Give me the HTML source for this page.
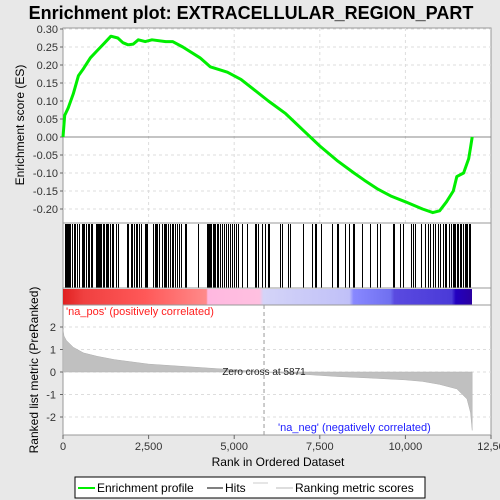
<!DOCTYPE html>
<html><head><meta charset="utf-8"><style>
html,body{margin:0;padding:0;background:#e8e8e8;width:500px;height:500px;overflow:hidden;font-family:"Liberation Sans",sans-serif}
</style></head><body>
<svg id="c" width="500" height="500" xmlns="http://www.w3.org/2000/svg" font-family="Liberation Sans, sans-serif">
<rect x="0" y="0" width="500" height="500" fill="#e8e8e8"/>
<text x="251" y="19" font-size="18" font-weight="bold" text-anchor="middle" fill="#000">Enrichment plot: EXTRACELLULAR_REGION_PART</text>
<g id="es-panel"></g>
<g id="hits-panel"></g>
<g id="metric-panel"></g>
<text transform="translate(24,125) rotate(-90)" font-size="12" text-anchor="middle">Enrichment score (ES)</text>
<text transform="translate(38,370) rotate(-90)" font-size="12" text-anchor="middle">Ranked list metric (PreRanked)</text>
<text x="278" y="466" font-size="12" text-anchor="middle">Rank in Ordered Dataset</text>
<g>
<rect x="75" y="477" width="350" height="21" fill="#fff" stroke="#000"/>
<line x1="78" y1="488" x2="95" y2="488" stroke="#00ee00" stroke-width="2"/>
<text x="97" y="492" font-size="12">Enrichment profile</text>
<line x1="207" y1="488" x2="223" y2="488" stroke="#000" stroke-width="1"/>
<text x="225" y="492" font-size="12">Hits</text>
<line x1="253" y1="483" x2="268" y2="483" stroke="#ccc"/>
<line x1="276" y1="488" x2="293" y2="488" stroke="#bbb"/>
<text x="295" y="492" font-size="12">Ranking metric scores</text>
</g>
</svg>
<script>
const esRanks=[0,50,150,300,450,600,800,1000,1200,1400,1600,1750,1900,2050,2200,2400,2600,3000,3200,3500,4000,4300,4800,5200,5600,6000,6500,7000,7500,8000,8500,8800,9200,9600,10000,10500,10800,11000,11200,11400,11500,11700,11850,11900,11950];
const esValues=[0,0.06,0.08,0.12,0.17,0.19,0.22,0.24,0.26,0.28,0.275,0.262,0.256,0.258,0.27,0.265,0.27,0.265,0.265,0.25,0.22,0.195,0.18,0.16,0.13,0.1,0.065,0.02,-0.025,-0.065,-0.1,-0.12,-0.145,-0.165,-0.18,-0.2,-0.21,-0.205,-0.18,-0.15,-0.11,-0.1,-0.06,-0.03,0];
const hitRanks=[58,88,117,146,175,204,263,321,350,409,467,555,584,613,672,730,759,818,847,964,993,1022,1051,1080,1110,1168,1197,1256,1285,1314,1372,1431,1460,1548,1606,1869,1898,1986,2015,2073,2132,2161,2219,2278,2394,2424,2453,2628,2686,2716,2745,2803,2891,2949,2978,3008,3066,3124,3183,3212,3270,3329,3387,3446,3562,3592,3942,4205,4234,4263,4292,4322,4380,4409,4438,4497,4526,4584,4643,4701,4760,4818,4876,4935,4993,5052,5110,5227,5373,5606,5636,5694,5811,5898,5986,6015,6336,6395,6570,6628,7008,7271,7358,7388,7534,7855,8001,8030,8234,8351,8468,8497,8731,8964,9169,9256,9636,9665,9840,9928,10162,10220,10278,10454,10570,10658,10716,10804,10862,10950,11008,11096,11154,11183,11271,11330,11388,11417,11446,11505,11534,11592,11621,11680,11738,11767,11796,11855,11884];
const metricRanks=[0,30,100,300,600,1000,1500,2500,4000,5000,5871,7000,8000,9000,10000,10500,11000,11500,11800,11900,11950];
const metricValues=[1.9,1.6,1.4,1.1,0.85,0.7,0.55,0.35,0.2,0.1,0,-0.1,-0.2,-0.27,-0.35,-0.42,-0.55,-0.75,-1.2,-1.8,-2.6];
const esTicks=[0.30,0.25,0.20,0.15,0.10,0.05,0,-0.05,-0.10,-0.15,-0.20];
const metricTicks=[2,1,0,-1,-2];
const xTicks=[0,2500,5000,7500,10000,12500];
const xTickLabels=["0","2,500","5,000","7,500","10,000","12,50"];
const N=11950, X0=63, X1=491;
const sx=r=>X0+r*(X1-X0)/12500;
const syE=v=>137-v*360;
const syM=v=>372-v*22.5;
const NS="http://www.w3.org/2000/svg";
function mk(p,t,a){const e=document.createElementNS(NS,t);for(const k in a)e.setAttribute(k,a[k]);p.appendChild(e);return e;}
const es=document.getElementById('es-panel'),hp=document.getElementById('hits-panel'),mp=document.getElementById('metric-panel');
mk(es,'rect',{x:X0,y:28,width:X1-X0,height:195,fill:'#fff',stroke:'#999'});
xTicks.forEach(t=>{if(t>0&&t<12500){mk(es,'line',{x1:sx(t),y1:28,x2:sx(t),y2:223,stroke:'#ddd','stroke-dasharray':'3,3'});mk(hp,'line',{x1:sx(t),y1:223,x2:sx(t),y2:288,stroke:'#ddd','stroke-dasharray':'3,3'});mk(mp,'line',{x1:sx(t),y1:305,x2:sx(t),y2:435,stroke:'#ddd','stroke-dasharray':'3,3'});}});
esTicks.forEach(t=>{const y=syE(t);
if(t!==0){mk(es,'line',{x1:X0,y1:y,x2:X1,y2:y,stroke:'#ddd','stroke-dasharray':'3,3'});}
mk(es,'line',{x1:X0-3,y1:y,x2:X0,y2:y,stroke:'#666'});
const tx=mk(es,'text',{x:X0-5,y:y+4,'font-size':11,'text-anchor':'end',fill:'#333'});tx.textContent=t.toFixed(2);

});
mk(es,'line',{x1:X0,y1:syE(0),x2:X1,y2:syE(0),stroke:'#888'});
let d=esRanks.map((r,i)=>(i?'L':'M')+sx(r).toFixed(1)+','+syE(esValues[i]).toFixed(1)).join(' ');
const pl=mk(es,'path',{d:d,fill:'none',stroke:'#00ee00','stroke-width':3,'stroke-linejoin':'round'});


mk(hp,'rect',{x:X0,y:223,width:X1-X0,height:82,fill:'#fff',stroke:'#999'});
hitRanks.forEach(r=>{const l=mk(hp,'line',{x1:Math.round(sx(r))+0.5,y1:224,x2:Math.round(sx(r))+0.5,y2:288,stroke:'#000','stroke-width':1,'shape-rendering':'crispEdges'});

});
const defs=mk(hp,'defs',{});const gr=mk(defs,'linearGradient',{id:'band',x1:0,x2:1,y1:0,y2:0});
[[0,'#e02020'],[0.05,'#f04040'],[0.2,'#ff5858'],[0.35,'#ff8a8a'],[0.354,'#ffb8e0'],[0.48,'#ffc0e0'],[0.49,'#d4d4f8'],[0.7,'#c0c0f8'],[0.71,'#8888ff'],[0.8,'#7070f0'],[0.81,'#5a4ae0'],[0.95,'#4a3ad8'],[0.96,'#2200c0'],[1,'#2a00a0']].forEach(s=>mk(gr,'stop',{offset:s[0],'stop-color':s[1]}));
const band=mk(hp,'rect',{x:X0,y:289,width:sx(N)-X0,height:16,fill:'url(#band)','shape-rendering':'crispEdges'});


mk(hp,'line',{x1:X0,y1:288,x2:X1,y2:288,stroke:'#999'});
mk(mp,'rect',{x:X0,y:305,width:X1-X0,height:130,fill:'#fff',stroke:'#999'});
metricTicks.forEach(t=>{const y=syM(t);mk(mp,'line',{x1:X0,y1:y,x2:X1,y2:y,stroke:'#ddd','stroke-dasharray':'3,3'});
mk(mp,'line',{x1:X0-3,y1:y,x2:X0,y2:y,stroke:'#666'});
const tx=mk(mp,'text',{x:X0-7,y:y+4,'font-size':11,'text-anchor':'end',fill:'#333'});tx.textContent=t;

});
let md='M'+sx(0)+','+syM(0)+' '+metricRanks.map((r,i)=>'L'+sx(r).toFixed(1)+','+syM(metricValues[i]).toFixed(1)).join(' ')+' L'+sx(N)+','+syM(0)+'Z';
const ma=mk(mp,'path',{d:md,fill:'#c0c0c0',stroke:'#b0b0b0','stroke-width':0.5});


mk(mp,'line',{x1:sx(5871),y1:305,x2:sx(5871),y2:435,stroke:'#999','stroke-dasharray':'4,3'});
let t1=mk(mp,'text',{x:264,y:375,'font-size':10,'text-anchor':'middle',fill:'#222'});t1.textContent='Zero cross at 5871';


let t2=mk(mp,'text',{x:66,y:315,'font-size':11,fill:'#ff2020'});t2.textContent="'na_pos' (positively correlated)";


let t3=mk(mp,'text',{x:278,y:431,'font-size':11,fill:'#2020ff'});t3.textContent="'na_neg' (negatively correlated)";


xTicks.forEach((t,i)=>{const x=sx(t);mk(mp,'line',{x1:x,y1:435,x2:x,y2:439,stroke:'#666'});
const tx=mk(mp,'text',{x:x,y:450,'font-size':11,'text-anchor':'middle',fill:'#333'});tx.textContent=xTickLabels[i];

});
</script>
</body></html>
